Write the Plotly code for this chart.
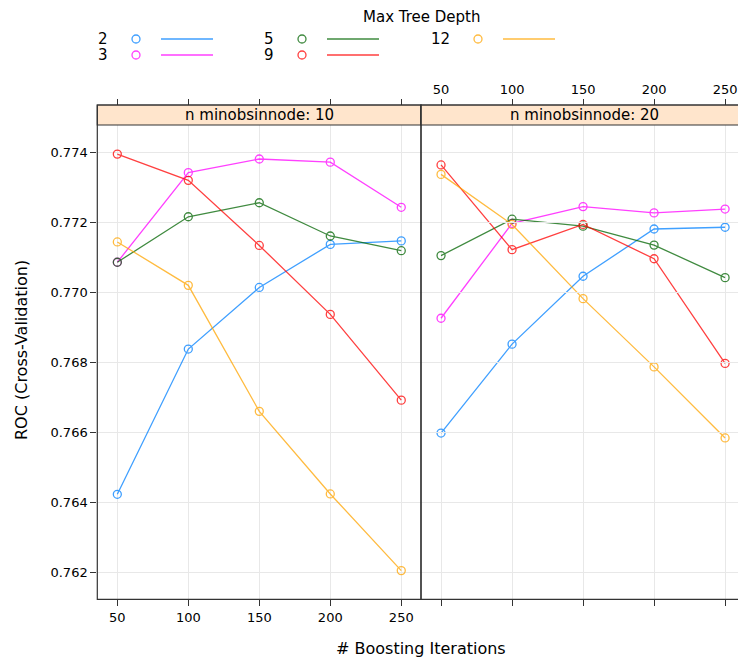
import plotly.graph_objects as go

# ---------------- data ----------------
iterations = [50, 100, 150, 200, 250]
depths = ["2", "3", "5", "9", "12"]
panels = ["n minobsinnode: 10", "n minobsinnode: 20"]

roc_node10 = {
    "2":  [0.76424, 0.76839, 0.77015, 0.77138, 0.77148],
    "3":  [0.77087, 0.77343, 0.77382, 0.77373, 0.77244],
    "5":  [0.77087, 0.77217, 0.77257, 0.77162, 0.77120],
    "9":  [0.77396, 0.77321, 0.77135, 0.76938, 0.76693],
    "12": [0.77145, 0.77021, 0.76661, 0.76425, 0.76206],
}
roc_node20 = {
    "2":  [0.76599, 0.76853, 0.77047, 0.77182, 0.77187],
    "3":  [0.76927, 0.77198, 0.77246, 0.77228, 0.77239],
    "5":  [0.77106, 0.77210, 0.77190, 0.77136, 0.77043],
    "9":  [0.77365, 0.77123, 0.77195, 0.77097, 0.76798],
    "12": [0.77338, 0.77195, 0.76983, 0.76788, 0.76585],
}
y_ticks = [0.762, 0.764, 0.766, 0.768, 0.770, 0.772, 0.774]

# ---------------- style ----------------
colors = {"2": "#0080ff", "3": "#ff00ff", "5": "#006400", "9": "#ff0000", "12": "#ffa500"}
FONT = "DejaVu Sans"
W, H = 738, 661
frame_col = "#333333"
grid_col = "#e8e8e8"


def fx(px):
    return px / W


def fy(py):
    return 1 - py / H


left_x0, mid_x, right_x1 = 97.3, 421.0, 738.0
plot_top, plot_bot, strip_top = 125.0, 599.3, 105.0

fig = go.Figure()

for panel_idx, data in enumerate([roc_node10, roc_node20]):
    xa = "x" if panel_idx == 0 else "x2"
    ya = "y" if panel_idx == 0 else "y2"
    for d in depths:
        fig.add_trace(go.Scatter(
            x=iterations, y=data[d], mode="lines+markers", xaxis=xa, yaxis=ya,
            line=dict(color=colors[d], width=1.3),
            marker=dict(symbol="circle-open", size=8, color=colors[d], line=dict(width=1.3)),
            opacity=0.75, showlegend=False, hoverinfo="skip",
        ))

# invisible anchors for the top tick axes
for xa in ["x4", "x5"]:
    fig.add_trace(go.Scatter(x=[iterations[0]], y=[y_ticks[0]], xaxis=xa, yaxis="y",
                             mode="markers", marker=dict(opacity=0), showlegend=False,
                             hoverinfo="skip"))

# ---------- key (legend) on a hidden pixel axis ----------
key_cols = [110, 276, 452]      # right edge of label text in px
key_rows = [39, 55]
for i, d in enumerate(depths):
    c, r = i // 2, i % 2
    xr = key_cols[c]
    yr = key_rows[r]
    fig.add_trace(go.Scatter(x=[xr + 26], y=[yr], xaxis="x3", yaxis="y3", mode="markers",
                             marker=dict(symbol="circle-open", size=8, color=colors[d],
                                         line=dict(width=1.3)),
                             opacity=0.75, showlegend=False, hoverinfo="skip"))
    fig.add_trace(go.Scatter(x=[xr + 51, xr + 103], y=[yr, yr], xaxis="x3", yaxis="y3",
                             mode="lines", line=dict(color=colors[d], width=1.3),
                             opacity=0.75, showlegend=False, hoverinfo="skip"))
    fig.add_annotation(x=xr, y=yr, xref="x3", yref="y3", text=d, showarrow=False,
                       xanchor="right", yanchor="middle",
                       font=dict(family=FONT, size=15, color="black"))

fig.add_annotation(x=fx(421.5), y=fy(17), xref="paper", yref="paper", text="Max Tree Depth",
                   showarrow=False, xanchor="center", yanchor="middle",
                   font=dict(family=FONT, size=15, color="black"))

# ---------- axes ----------
left_range = [35.9, 263.9]
right_range = [35.9, 259.1]
y_range = [0.761240, 0.774791]
tick_font = dict(family=FONT, size=13, color="black")

common_x = dict(tickvals=iterations, ticks="outside", ticklen=6, tickwidth=1,
                tickcolor=frame_col, showline=False, zeroline=False,
                gridcolor=grid_col, gridwidth=1.2, tickfont=tick_font)

fig.update_layout(
    width=W, height=H,
    margin=dict(l=0, r=0, t=0, b=0, autoexpand=False),
    paper_bgcolor="white", plot_bgcolor="rgba(0,0,0,0)",
    xaxis=dict(domain=[fx(left_x0), fx(mid_x)], range=left_range, anchor="y", **common_x),
    xaxis2=dict(domain=[fx(mid_x), fx(right_x1)], range=right_range, anchor="y2",
                showticklabels=False, **common_x),
    xaxis4=dict(overlaying="x", anchor="free", position=fy(strip_top), side="top",
                range=left_range, showgrid=False, showticklabels=False,
                tickvals=iterations, ticks="outside", ticklen=6, tickcolor=frame_col,
                showline=False, zeroline=False),
    xaxis5=dict(overlaying="x2", anchor="free", position=fy(strip_top), side="top",
                range=right_range, showgrid=False, tickvals=iterations, ticks="outside",
                ticklen=6, tickcolor=frame_col, showline=False, zeroline=False,
                tickfont=tick_font),
    yaxis=dict(domain=[fy(plot_bot), fy(plot_top)], range=y_range, anchor="x",
               tickvals=y_ticks, ticktext=[f"{v:.3f}" for v in y_ticks],
               ticks="outside", ticklen=6, tickcolor=frame_col, showline=False,
               zeroline=False, gridcolor=grid_col, gridwidth=1.2, tickfont=tick_font),
    yaxis2=dict(domain=[fy(plot_bot), fy(plot_top)], range=y_range, anchor="x2",
                matches="y", tickvals=y_ticks, showticklabels=False, ticks="",
                showline=False, zeroline=False, gridcolor=grid_col, gridwidth=1.2),
    xaxis3=dict(domain=[0, 1], range=[0, W], visible=False, fixedrange=True),
    yaxis3=dict(domain=[0, 1], range=[H, 0], visible=False, fixedrange=True, anchor="x3"),
)

# ---------- strips and frames ----------
shapes = []
for x0, x1 in [(left_x0, mid_x), (mid_x, right_x1 + 10)]:
    shapes.append(dict(type="rect", xref="paper", yref="paper",
                       x0=fx(x0), x1=fx(x1), y0=fy(plot_top), y1=fy(strip_top),
                       fillcolor="#ffe5cc", line=dict(color=frame_col, width=1.2),
                       layer="above"))
    shapes.append(dict(type="rect", xref="paper", yref="paper",
                       x0=fx(x0), x1=fx(x1), y0=fy(plot_bot), y1=fy(strip_top),
                       fillcolor="rgba(0,0,0,0)", line=dict(color=frame_col, width=1.2),
                       layer="above"))
fig.update_layout(shapes=shapes)

for txt, cx in zip(panels, [(left_x0 + mid_x) / 2, 584]):
    fig.add_annotation(x=fx(cx), y=fy((plot_top + strip_top) / 2), xref="paper", yref="paper",
                       text=txt, showarrow=False, xanchor="center", yanchor="middle",
                       font=dict(family=FONT, size=15, color="black"))

fig.add_annotation(x=fx(421), y=fy(648), xref="paper", yref="paper",
                   text="# Boosting Iterations", showarrow=False,
                   xanchor="center", yanchor="middle",
                   font=dict(family=FONT, size=16, color="black"))
fig.add_annotation(x=fx(22), y=fy(350), xref="paper", yref="paper",
                   text="ROC (Cross-Validation)", showarrow=False, textangle=-90,
                   xanchor="center", yanchor="middle",
                   font=dict(family=FONT, size=16, color="black"))

fig.write_html("out.html", config={"displayModeBar": False},
               post_script="document.body.style.margin='0';document.body.style.padding='0';")
